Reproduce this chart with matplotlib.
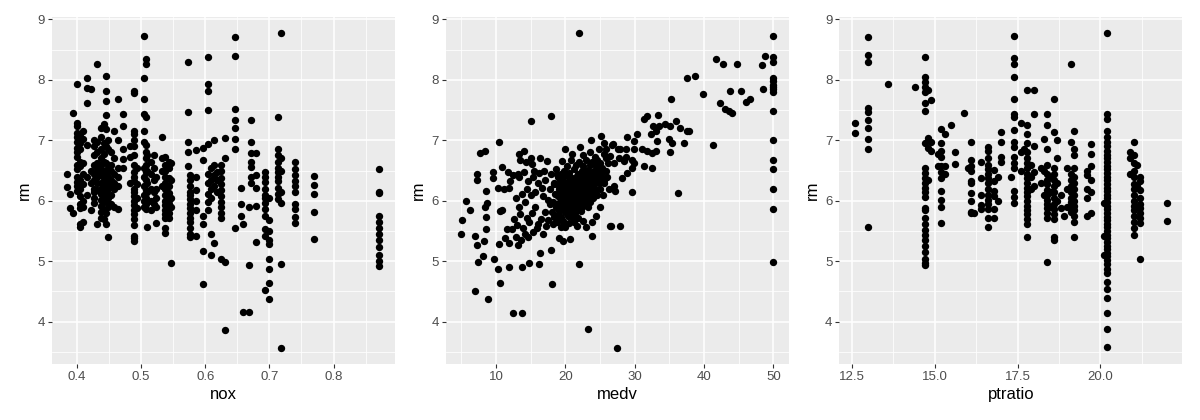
"""
rm against nox, medv and ptratio (Boston housing) - three ggplot-style scatter panels.
"""

import numpy as np
import matplotlib
matplotlib.use("Agg")
import matplotlib.pyplot as plt
from matplotlib.ticker import FixedLocator

plt.rcParams["font.family"] = ["Liberation Sans", "DejaVu Sans"]

# ── data ──────────────────────────────────────────────────────────────────────
# nox: each entry is (nox value, rm values stacked at that nox)
NOX_COLS = [
    (0.385, [6.23, 6.45]),
    (0.389, [6.11, 5.88]),
    (0.394, [7.46, 5.79]),
    (0.400, [7.93, 7.29, 7.24, 7.12, 7.05, 6.98, 6.88, 6.80, 6.72, 6.60, 6.52, 6.40, 6.31, 6.25, 6.16]),
    (0.405, [7.10, 6.95, 6.85, 6.65, 6.58, 6.35, 6.20, 6.08, 5.95, 5.88, 5.61, 5.57]),
    (0.410, [7.15, 7.02, 6.62, 6.45, 6.28, 6.00, 5.90, 5.65]),
    (0.416, [8.03, 7.87, 7.61, 6.92, 6.40, 6.10]),
    (0.422, [7.85, 6.50, 6.30, 5.85]),
    (0.426, [7.00, 6.90, 6.75, 6.60, 6.45, 6.35, 6.20, 6.15, 6.05, 5.97]),
    (0.431, [8.27, 6.97, 6.80, 6.62, 6.55, 6.48, 6.40, 6.30, 6.18, 5.61]),
    (0.437, [7.20, 7.05, 6.85, 6.70, 6.60, 6.52, 6.42, 6.30, 6.20, 6.12, 6.02, 5.92, 5.82, 5.72]),
    (0.442, [7.27, 6.95, 6.78, 6.65, 6.50, 6.38, 6.25, 6.10, 5.98, 5.85, 5.70]),
    (0.445, [8.07, 7.82, 7.65, 7.42, 7.19, 6.90, 6.62, 6.45, 6.30, 6.15, 6.00, 5.80, 5.61]),
    (0.448, [7.00, 6.85, 6.55, 6.40, 6.20, 6.05, 5.90, 5.40]),
    (0.453, [6.80, 6.60, 6.50, 6.35, 6.25, 6.10, 5.95]),
    (0.458, [7.15, 6.70, 6.45, 6.30, 6.20, 5.90]),
    (0.464, [7.69, 7.00, 6.55, 6.40, 6.25, 5.87]),
    (0.472, [7.43, 7.24, 6.86, 6.69, 6.55]),
    (0.483, [6.90, 6.72, 6.30]),
    (0.489, [7.82, 7.78, 7.16, 7.10, 7.00, 6.90, 6.75, 6.60, 6.48, 6.40, 6.32, 6.20,
             6.15, 6.08, 6.00, 5.93, 5.85, 5.78, 5.70, 5.60, 5.42, 5.38, 5.34]),
    (0.493, [6.55, 6.28, 6.05, 5.88]),
    (0.504, [8.73, 8.04, 7.69, 7.44, 7.16, 6.98, 6.55, 6.40, 6.25, 6.10, 6.00, 5.90]),
    (0.507, [8.35, 8.27, 7.38, 6.92, 6.80, 6.70, 6.60, 6.48, 6.35, 6.18, 6.05, 5.95, 5.87]),
    (0.510, [6.75, 6.50, 6.30, 6.15, 5.57]),
    (0.515, [6.65, 6.45, 6.20, 6.00, 5.85]),
    (0.520, [6.75, 6.55, 6.35, 6.15, 5.95]),
    (0.524, [6.40, 6.20, 6.05, 5.90, 5.63]),
    (0.532, [7.06, 6.70, 6.50, 6.25]),
    (0.538, [6.72, 6.60, 6.50, 6.40, 6.30, 6.20, 6.10, 6.00, 5.93, 5.85, 5.78, 5.72, 5.46, 5.55]),
    (0.544, [6.65, 6.55, 6.38, 6.25, 6.13, 6.02, 5.95, 5.88, 5.80, 5.72]),
    (0.547, [6.62, 6.35, 6.05, 5.90, 4.97]),
    (0.573, [8.29, 7.47, 6.98, 6.80, 6.58]),
    (0.577, [6.42, 6.35, 6.25, 6.15, 6.10, 6.03, 5.95, 5.88, 5.80, 5.72, 5.65, 5.55, 5.45, 5.40]),
    (0.585, [6.84, 6.40, 6.18, 6.00, 5.85, 5.42]),
    (0.597, [6.88, 6.67, 5.75, 5.61, 5.17, 4.62]),
    (0.605, [8.38, 7.94, 7.81, 7.50, 6.94, 6.45, 6.30, 6.12, 5.98, 5.85]),
    (0.609, [6.55, 6.35, 6.20, 6.05, 5.45, 5.10]),
    (0.614, [7.01, 6.60, 6.42, 6.25, 5.30]),
    (0.619, [6.48, 6.35, 6.15]),
    (0.624, [6.60, 6.50, 6.38, 6.28, 6.18, 6.08, 5.98, 5.90, 5.80, 5.72, 5.04]),
    (0.631, [7.04, 6.71, 4.98, 3.87]),
    (0.647, [8.71, 8.40, 7.52, 7.34, 7.20, 7.03, 6.86, 5.55]),
    (0.655, [6.21, 5.94, 5.75]),
    (0.659, [5.61, 4.16]),
    (0.668, [5.90, 4.93, 4.16]),
    (0.671, [7.33, 6.98, 6.79, 6.65, 6.56, 6.40, 6.30]),
    (0.679, [6.79, 6.43, 6.21, 5.92, 5.32]),
    (0.693, [6.47, 6.40, 6.31, 6.19, 6.10, 6.04, 5.97, 5.86, 5.75, 5.53, 5.42, 4.52]),
    (0.700, [6.05, 5.69, 5.50, 5.35, 5.28, 5.03, 4.88, 4.64, 4.37]),
    (0.713, [7.39, 6.85, 6.75, 6.65, 6.55, 6.47, 6.40, 6.32, 6.22, 6.12, 6.03]),
    (0.718, [8.78, 6.70, 6.50, 6.15, 5.97, 4.96, 3.56]),
    (0.740, [6.65, 6.53, 6.43, 6.33, 6.25, 6.15, 5.95, 5.87, 5.74, 5.63]),
    (0.770, [6.41, 6.26, 6.12, 5.81, 5.37]),
    (0.871, [6.52, 6.15, 6.13, 5.75, 5.65, 5.55, 5.45, 5.35, 5.23, 5.10, 5.00, 4.92]),
]

# medv: scattered cloud, pairs kept as two parallel lists
MEDV = [
    5.0, 5.1, 5.6, 6.3, 6.9, 6.9, 7.2, 7.2, 7.2, 7.4,
    7.6, 8.1, 8.3, 8.4, 8.4, 8.5, 8.5, 8.6, 8.7, 8.8,
    9.5, 9.6, 9.7, 10.2, 10.3, 10.4, 10.4, 10.5, 10.5, 10.8,
    10.8, 11.1, 11.3, 11.5, 11.7, 11.8, 11.8, 11.9, 12.0, 12.3,
    12.5, 12.5, 13.1, 13.3, 13.3, 13.5, 13.8, 13.8, 14.0, 14.3,
    14.7, 15.0, 15.05, 15.2, 15.4, 16.2, 16.2, 16.3, 16.4, 16.9,
    17.3, 17.9, 17.9, 17.9, 18.0, 22.0, 22.0, 23.2, 27.5, 23.8,
    23.0, 26.6, 26.4, 27.9, 29.6, 36.2, 19.0, 19.7, 20.6,
    # 12-19 band
    12.9, 13.3, 13.8, 14.2, 14.5, 15.1, 15.6, 16.0, 16.6, 17.1,
    17.8, 18.3, 12.6, 13.0, 13.5, 13.9, 14.4, 14.8, 15.2, 15.6,
    16.0, 16.5, 17.0, 17.5, 17.8, 14.1, 14.6, 15.3, 15.9, 16.7,
    17.2, 18.2, 18.6, 19.0, 13.1, 14.0, 14.6, 15.3, 16.8, 17.5,
    18.8, 19.2, 12.8, 13.6,
    # dense core
    19.5, 20.8, 22.0, 23.0, 23.9, 24.5, 25.0,
    18.6, 19.8, 21.2, 22.4, 23.3, 24.1, 24.8, 25.3,
    18.9, 20.1, 20.9, 21.7, 22.6, 23.4, 24.0, 24.6, 25.2,
    18.3, 19.4, 20.4, 21.2, 22.0, 22.8, 23.5, 24.2, 24.8,
    19.0, 19.8, 20.6, 21.4, 22.1, 22.9, 23.6, 24.3, 25.0,
    18.5, 19.3, 20.1, 20.8, 21.6, 22.4, 23.1, 23.9, 24.6,
    19.6, 20.3, 21.0, 21.8, 22.6, 23.3, 24.0,
    18.2, 19.0, 19.8, 20.5, 21.3, 22.0, 22.8, 23.6,
    18.7, 19.5, 20.2, 20.9, 21.7, 22.4, 23.2,
    18.0, 19.1, 19.9, 20.6, 21.4, 22.2,
    18.4, 19.4, 20.3, 21.0, 21.8,
    18.8, 19.6, 20.5, 21.3, 22.6,
    19.3, 20.0, 21.6,
    # dense core, second layer between the rows above
    20.2, 21.5, 22.6, 23.6, 24.4,
    19.3, 20.5, 21.8, 22.9, 23.8, 24.5,
    19.7, 20.6, 21.4, 22.3, 23.1, 23.9, 24.4,
    19.1, 20.0, 20.9, 21.7, 22.5, 23.2, 24.0,
    19.5, 20.3, 21.1, 21.9, 22.7, 23.5, 24.2,
    18.9, 19.7, 20.5, 21.3, 22.1, 22.9, 23.7,
    19.4, 20.1, 20.9, 21.6, 22.4, 23.1,
    18.8, 19.7, 20.6, 21.4, 22.2,
    19.2, 20.0, 20.8, 21.6,
    22.1, 23.7, 25.1, 26.8, 24.9, 27.6, 22.5, 23.5, 24.2, 25.6,
    26.2, 25.8, 26.0, 25.5, 26.3, 25.0, 24.4, 23.8, 21.0, 20.0,
    # upper right arm
    31.3, 31.7, 33.3, 32.7, 33.5, 34.4, 35.1, 36.0, 36.6, 37.5,
    37.9, 32.3, 33.0, 33.2, 34.9, 35.4, 37.1, 35.1, 28.9, 29.9,
    30.3, 26.7, 27.9, 28.7, 29.9, 31.1, 31.8, 32.5, 33.0, 26.5,
    27.7, 28.7, 29.6, 27.0, 28.4, 29.9, 31.3, 32.5, 28.2, 28.9,
    29.6, 27.0, 27.2, 25.5, 25.8, 25.3, 25.6, 25.4, 25.9,
    35.2, 37.6, 38.7, 39.8, 41.3, 41.7, 42.8, 44.8, 43.8, 45.4,
    48.5, 48.8, 48.4, 42.3, 43.1, 43.6, 44.1, 46.0, 46.7,
    50.0, 50.0, 50.0, 50.0, 50.0, 50.0, 50.0, 50.0, 50.0, 50.0,
    50.0, 50.0, 50.0, 50.0, 50.0, 50.0,
]
RM_MEDV = [
    5.45, 5.69, 5.99, 5.85, 4.51, 5.42, 5.27, 6.44, 6.35, 4.99,
    6.79, 5.08, 5.34, 6.82, 5.89, 5.73, 5.53, 6.16, 5.96, 4.38,
    6.38, 6.47, 5.03, 4.88, 6.21, 6.97, 5.29, 4.64, 5.83, 5.85,
    6.56, 6.19, 5.39, 5.53, 6.47, 6.21, 4.90, 5.31, 6.33, 5.53,
    6.42, 4.14, 5.27, 6.39, 6.78, 6.67, 4.91, 4.14, 6.83, 6.64,
    4.97, 6.70, 7.32, 6.61, 6.50, 4.96, 6.46, 5.14, 6.70, 6.49,
    6.66, 7.40, 5.18, 6.44, 4.62, 8.78, 4.96, 3.88, 3.56, 5.42,
    5.56, 5.59, 5.59, 5.59, 6.14, 6.13, 5.39, 5.33, 5.36,
    # 12-19 band
    6.05, 5.90, 6.12, 5.98, 6.20, 6.10, 6.15, 6.30, 6.22, 6.35,
    6.20, 6.27, 5.70, 5.60, 5.78, 5.55, 5.72, 5.65, 5.80, 5.90,
    5.62, 5.70, 5.82, 5.68, 5.95, 5.45, 5.40, 5.48, 5.55, 5.45,
    5.58, 5.62, 5.75, 5.72, 6.45, 6.48, 6.32, 6.40, 6.08, 6.02,
    6.45, 6.35, 5.40, 5.35,
    # dense core
    6.66, 6.68, 6.64, 6.67, 6.65, 6.68, 6.63,
    6.52, 6.50, 6.53, 6.49, 6.51, 6.50, 6.52, 6.48,
    6.40, 6.42, 6.38, 6.41, 6.39, 6.42, 6.40, 6.38, 6.41,
    6.30, 6.31, 6.29, 6.32, 6.30, 6.28, 6.31, 6.30, 6.29,
    6.20, 6.21, 6.19, 6.22, 6.20, 6.18, 6.21, 6.20, 6.19,
    6.12, 6.11, 6.13, 6.12, 6.10, 6.13, 6.11, 6.12, 6.10,
    6.05, 6.04, 6.06, 6.05, 6.03, 6.06, 6.04,
    5.98, 5.97, 5.99, 5.98, 5.96, 5.99, 5.97, 5.98,
    5.90, 5.91, 5.89, 5.90, 5.92, 5.89, 5.90,
    5.82, 5.83, 5.81, 5.82, 5.80, 5.83,
    5.74, 5.73, 5.75, 5.74, 5.72,
    5.65, 5.66, 5.64, 5.65, 5.66,
    5.57, 5.56, 5.58,
    # dense core, second layer
    6.58, 6.59, 6.57, 6.60, 6.58,
    6.45, 6.46, 6.44, 6.46, 6.45, 6.47,
    6.35, 6.36, 6.34, 6.35, 6.36, 6.34, 6.35,
    6.25, 6.24, 6.26, 6.25, 6.24, 6.26, 6.25,
    6.16, 6.15, 6.17, 6.16, 6.15, 6.17, 6.16,
    6.08, 6.09, 6.07, 6.08, 6.09, 6.07, 6.08,
    6.01, 6.00, 6.02, 6.01, 6.00, 6.02,
    5.94, 5.93, 5.95, 5.94, 5.93,
    5.86, 5.87, 5.86, 5.85,
    6.89, 7.01, 7.07, 6.94, 6.86, 6.86, 6.75, 6.80, 6.72, 6.78,
    6.62, 6.50, 6.40, 6.30, 6.20, 5.90, 5.75, 5.65, 6.78, 6.85,
    # upper right arm
    7.35, 7.41, 7.42, 7.24, 7.24, 7.27, 7.24, 7.32, 7.21, 7.15,
    7.15, 7.10, 7.16, 6.99, 7.02, 6.96, 6.96, 6.81, 7.06, 6.99,
    7.10, 6.93, 6.85, 6.85, 6.85, 6.85, 6.82, 6.79, 6.82, 6.74,
    6.71, 6.72, 6.68, 6.63, 6.66, 6.63, 6.57, 6.54, 6.38, 6.46,
    6.54, 6.24, 6.16, 6.95, 6.70, 6.55, 6.35, 6.10, 6.85,
    7.69, 8.04, 8.07, 7.77, 6.93, 8.34, 8.26, 8.27, 7.82, 7.82,
    7.85, 8.39, 8.25, 7.61, 7.52, 7.48, 7.45, 7.64, 7.68,
    8.72, 8.38, 8.29, 8.04, 7.98, 7.92, 7.85, 7.80, 7.48, 7.00,
    6.67, 6.20, 5.86, 4.99, 6.52, 7.88,
]

# ptratio: each entry is (ptratio value, rm values stacked at that ptratio)
PTRATIO_COLS = [
    (12.6, [7.28, 7.12]),
    (13.0, [8.71, 8.41, 8.30, 7.53, 7.47, 7.34, 7.21, 7.03, 6.86, 5.57]),
    (13.6, [7.93]),
    (14.4, [7.88]),
    (14.7, [8.38, 8.05, 7.97, 7.89, 7.80, 7.61, 7.49, 6.96, 6.54, 6.46, 6.38, 6.30, 6.22, 6.15,
            6.07, 5.88, 5.85, 5.72, 5.62, 5.52, 5.43, 5.35, 5.25, 5.16, 5.03, 4.97, 4.93]),
    (14.8, [7.83, 7.04, 6.87, 6.35]),
    (14.9, [7.66, 6.97, 6.82]),
    (15.1, [6.77, 6.57]),
    (15.2, [7.18, 6.96, 6.82, 6.73, 6.58, 6.48, 6.38, 6.17, 6.01, 5.89, 5.64]),
    (15.3, [7.10, 6.57, 6.44]),
    (15.5, [7.25]),
    (15.6, [6.81, 6.61]),
    (15.9, [7.46]),
    (16.0, [6.55]),
    (16.1, [6.98, 6.68, 6.58, 6.50, 6.33, 6.29, 6.13, 6.00, 5.82, 5.79]),
    (16.2, [5.80]),
    (16.4, [6.65, 6.38, 6.09, 5.93, 5.87]),
    (16.6, [6.89, 6.83, 6.70, 6.60, 6.52, 6.45, 6.38, 6.30, 6.20, 6.10, 6.02, 5.95, 5.87, 5.72, 5.56]),
    (16.8, [6.51, 6.33, 6.17, 6.08, 5.86, 5.71]),
    (16.9, [6.40, 6.00]),
    (17.0, [7.14, 6.97, 6.72, 6.64]),
    (17.3, [6.39]),
    (17.4, [8.73, 8.36, 8.27, 8.05, 7.69, 7.44, 7.39, 7.17, 6.97, 6.89, 6.73, 6.62, 6.54,
            6.17, 6.06, 5.97]),
    (17.6, [7.28, 6.81, 6.50]),
    (17.7, [6.86]),
    (17.8, [7.83, 7.25, 7.10, 6.95, 6.80, 6.70, 6.62, 6.55, 6.45, 6.38, 6.30, 6.22, 6.15,
            6.08, 6.00, 5.92, 5.85, 5.78, 5.70, 5.62, 5.40]),
    (17.9, [6.60, 6.40, 6.20]),
    (18.0, [7.83, 7.43, 6.90, 6.48, 6.25]),
    (18.2, [6.55, 6.30]),
    (18.3, [7.03, 6.50, 6.10]),
    (18.4, [7.43, 7.25, 6.86, 6.60, 6.45, 6.35, 6.28, 6.18, 6.10, 6.02, 5.95, 5.88, 5.80, 5.72, 4.98]),
    (18.5, [6.40, 6.15, 5.90]),
    (18.6, [7.69, 7.14, 6.55, 6.45, 6.35, 6.25, 6.15, 6.05, 5.95, 5.87, 5.78, 5.70, 5.40, 5.35]),
    (18.7, [7.00, 6.70, 6.30, 6.00]),
    (18.8, [6.10, 5.88]),
    (18.9, [5.75]),
    (19.0, [6.55, 6.20, 5.90]),
    (19.1, [8.27, 6.97, 6.45, 6.35, 6.25, 6.15, 6.05, 5.98, 5.90, 5.82]),
    (19.2, [7.15, 6.86, 6.75, 6.55, 6.40, 6.30, 6.20, 6.10, 6.00, 5.92, 5.84, 5.75, 5.65, 5.40]),
    (19.6, [6.50, 6.43, 6.20, 6.05, 5.75]),
    (19.7, [6.94, 6.77, 6.58, 6.35, 6.15, 5.80]),
    (20.1, [5.97, 5.42, 5.11]),
    (20.2, [8.78, 7.44, 7.36, 7.15, 7.05, 6.97, 6.90, 6.83, 6.76, 6.70, 6.64, 6.58, 6.52, 6.46,
            6.40, 6.34, 6.28, 6.22, 6.16, 6.10, 6.04, 5.98, 5.92, 5.86, 5.80, 5.74, 5.68, 5.62,
            5.56, 5.50, 5.44, 5.38, 5.32, 5.26, 5.20, 5.14, 5.08, 5.02, 4.96, 4.88, 4.80, 4.66,
            4.54, 4.40, 4.15, 3.88, 3.58]),
    (20.9, [6.80, 6.70, 6.45]),
    (21.0, [6.98, 6.75, 6.62, 6.50, 6.40, 6.28, 6.20, 6.10, 6.00, 5.92, 5.85, 5.75, 5.65, 5.55, 5.44]),
    (21.1, [6.60, 6.25, 5.90]),
    (21.2, [6.40, 6.32, 6.18, 6.05, 5.95, 5.88, 5.80, 5.72, 5.64, 5.03]),
    (22.0, [5.96, 5.67]),
]

Y_TICKS = [4, 5, 6, 7, 8, 9]
Y_MINOR = [3.5, 4.5, 5.5, 6.5, 7.5, 8.5]
NOX_TICKS = [0.4, 0.5, 0.6, 0.7, 0.8]
NOX_MINOR = [0.45, 0.55, 0.65, 0.75, 0.85]
MEDV_TICKS = [10, 20, 30, 40, 50]
MEDV_MINOR = [5, 15, 25, 35, 45]
PTRATIO_TICKS = [12.5, 15.0, 17.5, 20.0]
PTRATIO_TICK_LABELS = ["12.5", "15.0", "17.5", "20.0"]
PTRATIO_MINOR = [13.75, 16.25, 18.75, 21.25]


def expand_cols(cols):
    xs, ys = [], []
    for x, vals in cols:
        xs.extend([x] * len(vals))
        ys.extend(vals)
    return np.array(xs), np.array(ys)


def padded(lo, hi, frac=0.05):
    pad = (hi - lo) * frac
    return lo - pad, hi + pad


nox_x, nox_rm = expand_cols(NOX_COLS)
pt_x, pt_rm = expand_cols(PTRATIO_COLS)
medv_x, medv_rm = np.array(MEDV), np.array(RM_MEDV)

# ── plot ──────────────────────────────────────────────────────────────────────
fig = plt.figure(figsize=(12, 4.2), dpi=100)
bottom, height = 56 / 420, 347 / 420
width = 343 / 1200
lefts = [51.7 / 1200, 445.9 / 1200, 839.4 / 1200]

panels = [
    (nox_x, nox_rm, "nox", (0.385, 0.871), NOX_TICKS, None, NOX_MINOR),
    (medv_x, medv_rm, "medv", (5, 50), MEDV_TICKS, None, MEDV_MINOR),
    (pt_x, pt_rm, "ptratio", (12.6, 22.0), PTRATIO_TICKS, PTRATIO_TICK_LABELS, PTRATIO_MINOR),
]

for left, (x, y, name, xr, ticks, labels, minor) in zip(lefts, panels):
    ax = fig.add_axes([left, bottom, width, height])
    ax.set_facecolor("#EBEBEB")
    ax.scatter(x, y, s=28, color="black", linewidths=0, zorder=3)
    ax.set_xlim(*padded(*xr))
    ax.set_ylim(*padded(3.561, 8.780))
    ax.xaxis.set_major_locator(FixedLocator(ticks))
    ax.xaxis.set_minor_locator(FixedLocator(minor))
    ax.yaxis.set_major_locator(FixedLocator(Y_TICKS))
    ax.yaxis.set_minor_locator(FixedLocator(Y_MINOR))
    if labels:
        ax.set_xticklabels(labels)
    ax.grid(which="major", color="white", lw=1.1, zorder=0)
    ax.grid(which="minor", color="white", lw=0.55, zorder=0)
    ax.set_axisbelow(True)
    for sp in ax.spines.values():
        sp.set_visible(False)
    ax.tick_params(which="major", length=3, width=0.8, color="#333333",
                   labelcolor="#4D4D4D", labelsize=9.5, pad=2)
    ax.tick_params(which="minor", length=0)
    ax.set_xlabel(name, fontsize=12, color="black", labelpad=3)
    ax.set_ylabel("rm", fontsize=12, color="black", labelpad=4)

fig.savefig("out.png", dpi=100)
